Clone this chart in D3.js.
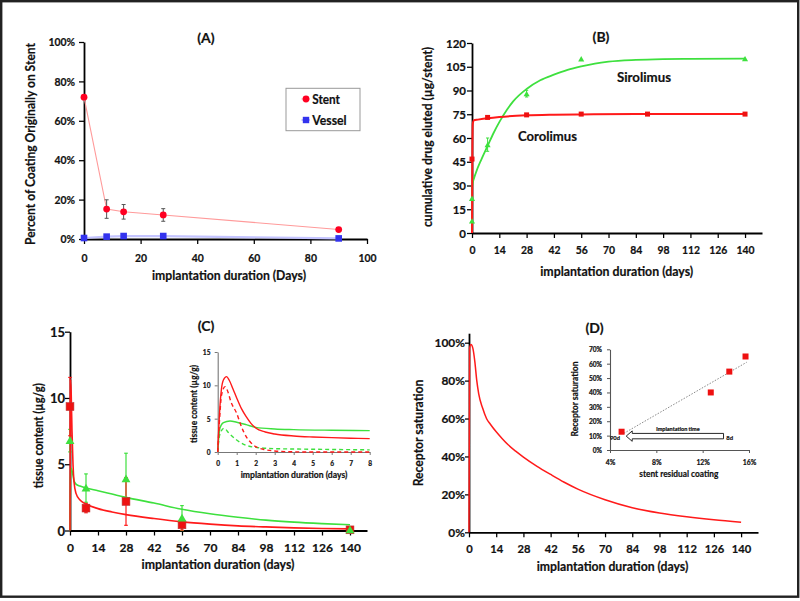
<!DOCTYPE html>
<html><head><meta charset="utf-8">
<script src="https://cdn.jsdelivr.net/npm/d3@7"></script>
<style>
body{margin:0;background:#fff;}
svg{display:block;}
text{font-family:Lato,"Open Sans",sans-serif;font-weight:bold;fill:#111;stroke:#111;stroke-width:0.2;}
</style></head><body>
<svg id="c" width="800" height="601"></svg>
<script>
// ---------- DATA ----------
// Panel A
const aDays = [0, 8, 14, 28, 90];
const aStent = [72, 15.2, 13.8, 12.2, 4.8];
const aStentErr = [0, 4.7, 3.7, 3.2, 0];
const aVessel = [0.5, 1.2, 1.5, 1.5, 0.3];
const aXTicks = [0, 20, 40, 60, 80, 100];
const aYTicks = [0, 20, 40, 60, 80, 100];
// Panel B
const bCoroDays = [0, 8, 28, 56, 90, 140];
const bCoroVals = [46.7, 73, 74.6, 75.1, 75.1, 75.1];
const bSiroDays = [0, 0, 8, 28, 56, 140];
const bSiroVals = [7.6, 21.9, 55.8, 88, 110, 110.1];
const bSiroErr = [0, 0, 4.2, 2.1, 0, 0];
const bCoroCurve = [[0,0],[0.15,47],[0.4,69],[1,71.2],[3,71.6],[8,72.5],[14,73.3],[28,74.3],[42,74.7],[56,74.9],[84,75.1],[140,75.2]];
const bSiroCurve = [[0,0],[0.1,29.5],[2,38],[5,47],[8,55],[11,63],[14,70],[18,78],[21,83],[28,91],[35,96.5],[42,100],[49,103],[56,105.2],[63,107],[70,108.2],[84,109.3],[98,109.8],[112,110],[140,110.2]];
const bXTicks = [0, 14, 28, 42, 56, 70, 84, 98, 112, 126, 140];
const bYTicks = [0, 15, 30, 45, 60, 75, 90, 105, 120];
// Panel C
const cDays = [0, 8, 28, 56, 140];
const cRed = [9.35, 1.69, 2.19, 0.43, 0.05];
const cRedErr = [2.2, 0.35, 1.8, 0.4, 0];
const cGreen = [6.78, 3.2, 3.9, 0.93, 0.05];
const cGreenErr = [0.85, 1.07, 1.93, 0.95, 0];
const cRedCurve = [[0,0],[0.3,11.4],[0.6,10.3],[1,7.5],[1.5,5],[2,3.7],[3,2.8],[5,2.3],[8,2],[14,1.65],[21,1.4],[28,1.2],[42,0.9],[56,0.65],[70,0.48],[84,0.35],[98,0.27],[112,0.2],[126,0.15],[140,0.12]];
const cGreenCurve = [[0,0],[0.2,4],[0.6,4.7],[1.2,4.4],[2,3.75],[3,3.5],[5,3.35],[8,3.2],[14,3],[21,2.75],[28,2.5],[42,2.07],[56,1.6],[70,1.26],[84,1],[98,0.78],[112,0.63],[126,0.52],[140,0.43]];
const cXTicks = [0, 14, 28, 42, 56, 70, 84, 98, 112, 126, 140];
const cYTicks = [0, 5, 10, 15];
// Panel C inset
const ciRedSolid = [[0,0],[0.1,6],[0.2,9.5],[0.3,10.8],[0.47,11.3],[0.6,10.8],[0.8,9.5],[1,8.1],[1.25,6.5],[1.5,5.3],[1.75,4.3],[2,3.6],[2.5,3],[3,2.7],[4,2.4],[5,2.25],[6,2.15],[7,2.07],[8,2]];
const ciRedDash = [[0,0],[0.1,5],[0.2,8.5],[0.39,9.8],[0.5,9.3],[0.7,7.5],[1,5.8],[1.25,3.8],[1.5,2.3],[1.75,1.4],[2,0.8],[2.5,0.35],[3,0.15],[4,0.03],[5,0],[8,0]];
const ciGreenSolid = [[0,0],[0.12,3.6],[0.3,4.4],[0.65,4.66],[1,4.46],[1.5,4.1],[2,3.7],[3,3.46],[4,3.36],[6,3.26],[8,3.2]];
const ciGreenDash = [[0,0],[0.1,2.5],[0.33,3.56],[0.6,2.8],[1,1.8],[1.5,1],[2,0.7],[3,0.5],[4,0.45],[6,0.38],[8,0.32]];
const ciXTicks = [0, 1, 2, 3, 4, 5, 6, 7, 8];
const ciYTicks = [0, 5, 10, 15];
// Panel D
const dCurve = [[0,0],[0.3,97],[1,99],[2,97],[3,90],[4,80],[5,73],[7,65.5],[9,60],[11,57],[14,53],[17,49.5],[20,46.3],[24,42.8],[28,39.7],[35,34.8],[42,30.5],[49,26.4],[56,22.8],[70,17.2],[84,13],[98,10.2],[112,8.2],[126,6.6],[140,5.3]];
const dXTicks = [0, 14, 28, 42, 56, 70, 84, 98, 112, 126, 140];
const dYTicks = [0, 20, 40, 60, 80, 100];
// Panel D inset
const diCoating = [5.0, 12.7, 14.3, 15.7];
const diSaturation = [12.7, 40, 54.5, 65];
const diTrend = [[5.2, 11.6], [15.8, 61]];
const diArrow = [[13.8, 9.3], [5.4, 9.3]];
const diXTicks = [4, 8, 12, 16];
const diYTicks = [0, 10, 20, 30, 40, 50, 60, 70];

// ---------- DRAW ----------
const svg = d3.select("#c");
const RED = "#ff1a1a", GREEN = "#3ee03e";

svg.append("rect").attr("x",1.2).attr("y",1.2).attr("width",797).attr("height",595.5)
  .attr("fill","none").attr("stroke","#222").attr("stroke-width",2.4);

function label(x, y, s, size, opts = {}) {
  const t = svg.append("text").attr("font-size", size).attr("text-anchor", opts.anchor || "middle").text(s);
  if (opts.rot) t.attr("transform", `translate(${x},${y}) rotate(-90)`);
  else t.attr("x", x).attr("y", y);
  if (opts.w) t.attr("textLength", opts.w).attr("lengthAdjust", "spacingAndGlyphs");
  if (opts.fill) t.attr("fill", opts.fill);
  return t;
}
function styleAxis(g, fs, color, sw) {
  g.select(".domain").attr("stroke", color).attr("stroke-width", sw);
  g.selectAll(".tick line").attr("stroke", color).attr("stroke-width", Math.max(1, sw * 0.7));
  g.selectAll(".tick text").attr("font-size", fs).attr("font-family", "DejaVu Sans")
    .attr("font-weight", "bold").attr("fill", "#111").attr("stroke", "none");
}
function xAxis(scale, ticks, y, fs, baseline, opts = {}) {
  const g = svg.append("g").attr("transform", `translate(0,${y})`)
    .call(d3.axisBottom(scale).tickValues(ticks).tickSize(opts.tick || 5).tickSizeOuter(0)
      .tickFormat(opts.fmt || (d => d)));
  styleAxis(g, fs, opts.color || "#000", opts.sw || 1.8);
  g.selectAll(".tick text").attr("dy", null).attr("y", baseline - y);
  return g;
}
function yAxis(scale, ticks, x, fs, rightEnd, opts = {}) {
  const g = svg.append("g").attr("transform", `translate(${x},0)`)
    .call(d3.axisLeft(scale).tickValues(ticks).tickSize(opts.tick || 5).tickSizeOuter(0)
      .tickFormat(opts.fmt || (d => d)));
  styleAxis(g, fs, opts.color || "#000", opts.sw || 1.8);
  g.selectAll(".tick text").attr("x", rightEnd - x).attr("dy", "0.36em");
  return g;
}
function errBars(xs, ys, es, sx, sy, color, cap, sw) {
  const g = svg.append("g").attr("stroke", color).attr("stroke-width", sw || 1);
  xs.forEach((d, i) => {
    if (!es[i]) return;
    const x = sx(d), y1 = sy(ys[i] + es[i]), y2 = sy(Math.max(0, ys[i] - es[i]));
    g.append("line").attr("x1", x).attr("x2", x).attr("y1", y1).attr("y2", y2);
    g.append("line").attr("x1", x - cap).attr("x2", x + cap).attr("y1", y1).attr("y2", y1);
    g.append("line").attr("x1", x - cap).attr("x2", x + cap).attr("y1", y2).attr("y2", y2);
  });
}
function curve(pts, sx, sy, color, sw, dash) {
  const p = svg.append("path").datum(pts).attr("fill", "none").attr("stroke", color)
    .attr("stroke-width", sw).attr("stroke-linejoin", "round")
    .attr("d", d3.line().x(d => sx(d[0])).y(d => sy(d[1])).curve(d3.curveMonotoneX));
  if (dash) p.attr("stroke-dasharray", dash);
  return p;
}
function squares(xs, ys, sx, sy, size, color, stroke) {
  svg.append("g").selectAll("rect").data(xs).join("rect")
    .attr("x", (d, i) => sx(d) - size / 2).attr("y", (d, i) => sy(ys[i]) - size / 2)
    .attr("width", size).attr("height", size).attr("fill", color)
    .attr("stroke", stroke || "none").attr("stroke-width", 0.6);
}
function triangles(xs, ys, sx, sy, size, color) {
  const sym = d3.symbol().type(d3.symbolTriangle).size(size);
  svg.append("g").selectAll("path").data(xs).join("path")
    .attr("transform", (d, i) => `translate(${sx(d)},${sy(ys[i]) + 0.8})`)
    .attr("d", sym).attr("fill", color);
}

// ===== Panel A =====
const xA = d3.scaleLinear().domain([0, 100]).range([84, 367]);
const yA = d3.scaleLinear().domain([0, 100]).range([239, 42]);
xAxis(xA, aXTicks, 239, 10.4, 261.5);
yAxis(yA, aYTicks, 84, 10.4, 75, { fmt: d => d + "%" });
svg.append("path").datum(aDays).attr("fill", "none").attr("stroke", "#c4c4ff").attr("stroke-width", 2.2)
  .attr("d", d3.line().x(d => xA(d)).y((d, i) => yA(aVessel[i])));
svg.append("path").datum(aDays).attr("fill", "none").attr("stroke", "#ff9a9a").attr("stroke-width", 1.1)
  .attr("d", d3.line().x(d => xA(d)).y((d, i) => yA(aStent[i])));
errBars(aDays, aStent, aStentErr, xA, yA, "#555", 2, 1);
svg.append("g").selectAll("circle").data(aDays).join("circle")
  .attr("cx", d => xA(d)).attr("cy", (d, i) => yA(aStent[i])).attr("r", 3.4).attr("fill", "#ff0022");
squares(aDays, aVessel, xA, yA, 6.6, "#3333ee");
label(206, 43, "(A)", 14);
label(229, 280, "implantation duration (Days)", 13, { w: 154 });
label(35, 144, "Percent of Coating Originally on Stent", 13, { rot: true, w: 202 });
// legend
svg.append("rect").attr("x", 286).attr("y", 88.3).attr("width", 74).attr("height", 42.4)
  .attr("fill", "#fff").attr("stroke", "#999").attr("stroke-width", 1);
svg.append("line").attr("x1", 301.5).attr("x2", 310).attr("y1", 99).attr("y2", 99).attr("stroke", "#ff9a9a");
svg.append("circle").attr("cx", 306).attr("cy", 99).attr("r", 3.4).attr("fill", "#ff0022");
svg.append("line").attr("x1", 301.5).attr("x2", 310).attr("y1", 120).attr("y2", 120).attr("stroke", "#c4c4ff").attr("stroke-width", 2);
svg.append("rect").attr("x", 302.8).attr("y", 116.8).attr("width", 6.4).attr("height", 6.4).attr("fill", "#3333ee");
label(312.3, 103.5, "Stent", 13, { anchor: "start", w: 27.7 });
label(312.3, 124.5, "Vessel", 13, { anchor: "start", w: 34.3 });

// ===== Panel B =====
const xB = d3.scaleLinear().domain([0, 148.7]).range([472, 762]);
const yB = d3.scaleLinear().domain([0, 120]).range([233, 43]);
xAxis(xB, bXTicks, 233, 10.4, 254);
yAxis(yB, bYTicks, 472, 11.5, 466);
curve(bSiroCurve, xB, yB, GREEN, 1.8);
curve(bCoroCurve, xB, yB, RED, 2);
errBars(bSiroDays, bSiroVals, bSiroErr, xB, yB, GREEN, 1.6, 1);
triangles(bSiroDays, bSiroVals, xB, yB, 16, GREEN);
squares(bCoroDays, bCoroVals, xB, yB, 5, "#ee1111");
label(601, 42, "(B)", 14);
label(616.7, 276, "implantation duration (days)", 13, { w: 153 });
label(432, 137, "cumulative drug eluted (µg/stent)", 13, { rot: true, w: 180 });
label(644, 82, "Sirolimus", 13.5, { w: 54 });
label(547.5, 141, "Corolimus", 13.5, { w: 59 });

// ===== Panel C =====
const xC = d3.scaleLinear().domain([0, 148.5]).range([70, 367]);
const yC = d3.scaleLinear().domain([0, 15]).range([530.5, 331.7]);
xAxis(xC, cXTicks, 530.5, 12, 552.3);
yAxis(yC, cYTicks, 70, 13, 65);
errBars(cDays, cGreen, cGreenErr, xC, yC, GREEN, 1.8, 1.2);
errBars(cDays, cRed, cRedErr, xC, yC, RED, 1.8, 1.2);
curve(cGreenCurve, xC, yC, GREEN, 1.6);
curve(cRedCurve, xC, yC, RED, 1.6);
squares(cDays, cRed, xC, yC, 7.8, "#ee1111", "#b33");
triangles(cDays, cGreen, xC, yC, 34, GREEN);
label(206, 331, "(C)", 14);
label(218, 569, "implantation duration (days)", 13, { w: 153 });
label(43.3, 435.7, "tissue content (µg/g)", 13, { rot: true, w: 105 });
// inset
const xCi = d3.scaleLinear().domain([0, 8]).range([217.7, 369.7]);
const yCi = d3.scaleLinear().domain([0, 15]).range([452, 352]);
xAxis(xCi, ciXTicks, 452, 6.6, 466, { tick: 3, color: "#777", sw: 1.1 });
yAxis(yCi, ciYTicks, 217.7, 6.6, 210.5, { tick: 3, color: "#777", sw: 1.1 });
curve(ciGreenSolid, xCi, yCi, GREEN, 1.4);
curve(ciGreenDash, xCi, yCi, GREEN, 1.4, "4,3");
curve(ciRedSolid, xCi, yCi, RED, 1.4);
curve(ciRedDash, xCi, yCi, RED, 1.4, "4,3");
label(294, 478.3, "implantation duration (days)", 9, { w: 106.7 });
label(197, 404, "tissue content (µg/g)", 9, { rot: true, w: 78 });

// ===== Panel D =====
const xD = d3.scaleLinear().domain([0, 148.7]).range([469, 758]);
const yD = d3.scaleLinear().domain([0, 105]).range([532.3, 333.2]);
xAxis(xD, dXTicks, 532.3, 11.2, 553.3);
yAxis(yD, dYTicks, 469, 11.9, 465, { fmt: d => d + "%", tick: 4 });
curve(dCurve, xD, yD, RED, 1.5);
label(594.5, 333, "(D)", 14);
label(612.5, 570.7, "implantation duration (days)", 13, { w: 151.7 });
label(422.7, 433, "Receptor saturation", 13, { rot: true, w: 106.7 });
// inset
const xDi = d3.scaleLinear().domain([4, 16]).range([610, 749]);
const yDi = d3.scaleLinear().domain([0, 70]).range([450, 349.3]);
xAxis(xDi, diXTicks, 450, 6.8, 465, { tick: 3, fmt: d => d + "%", color: "#555", sw: 1.1 });
yAxis(yDi, diYTicks, 610, 6.6, 602, { tick: 3, fmt: d => d + "%", color: "#555", sw: 1.1 });
svg.append("path").datum(diTrend).attr("fill", "none").attr("stroke", "#888").attr("stroke-width", 1)
  .attr("stroke-dasharray", "1.5,1.5")
  .attr("d", d3.line().x(d => xDi(d[0])).y(d => yDi(d[1])));
squares(diCoating, diSaturation, xDi, yDi, 6, "#ee1111");
// arrow
{
  const x0 = xDi(diArrow[0][0]), x1 = xDi(diArrow[1][0]), yc = yDi(diArrow[0][1]) - 0.5;
  const hb = 2.7, hh = 5.2, hl = 6;
  const pts = [[x0, yc - hb], [x1 + hl, yc - hb], [x1 + hl, yc - hh], [x1, yc], [x1 + hl, yc + hh], [x1 + hl, yc + hb], [x0, yc + hb]];
  svg.append("path").attr("d", "M" + pts.map(p => p.join(",")).join("L") + "Z")
    .attr("fill", "#fff").attr("stroke", "#111").attr("stroke-width", 0.9);
}
label(678, 431, "implantation time", 5.6, { w: 43.3 }).attr("stroke", "none");
label(615, 440, "90d", 6, { w: 10 }).attr("stroke", "none");
label(729.7, 440, "8d", 6, { w: 6.7 }).attr("stroke", "none");
label(678.8, 477, "stent residual coating", 9, { w: 79 });
label(578, 399, "Receptor saturation", 8.5, { rot: true, w: 75 });
</script>
</body></html>
